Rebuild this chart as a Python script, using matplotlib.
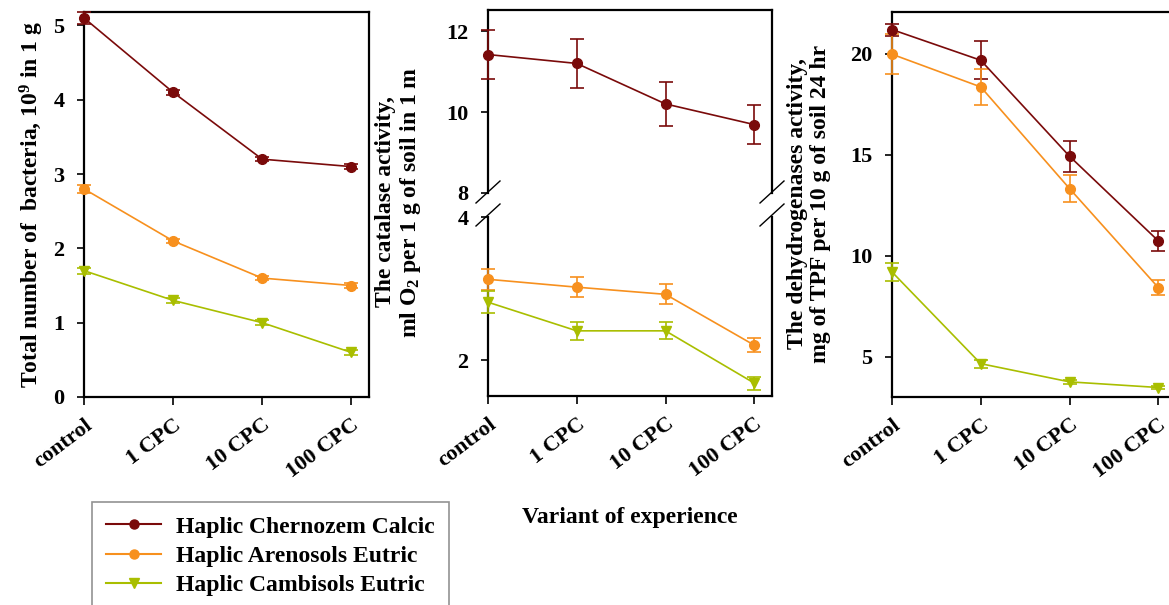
import matplotlib
matplotlib.use("Agg")
import matplotlib.pyplot as plt
from matplotlib.lines import Line2D

plt.rcParams['font.family'] = ['Liberation Serif', 'DejaVu Serif']
plt.rcParams['font.weight'] = 'bold'
plt.rcParams['mathtext.fontset'] = 'custom'
plt.rcParams['mathtext.rm'] = 'Liberation Serif:bold'
plt.rcParams['mathtext.it'] = 'Liberation Serif:bold'
plt.rcParams['mathtext.bf'] = 'Liberation Serif:bold'

# ---------------- data ----------------
categories = ["control", "1 CPC", "10 CPC", "100 CPC"]
series_names = ["Haplic Chernozem Calcic", "Haplic Arenosols Eutric", "Haplic Cambisols Eutric"]

bacteria_chernozem = [5.1, 4.1, 3.2, 3.1]
bacteria_chernozem_err = [0.08, 0.03, 0.03, 0.03]
bacteria_arenosols = [2.8, 2.1, 1.6, 1.5]
bacteria_arenosols_err = [0.05, 0.03, 0.03, 0.03]
bacteria_cambisols = [1.7, 1.3, 1.0, 0.6]
bacteria_cambisols_err = [0.04, 0.03, 0.03, 0.03]

catalase_chernozem = [11.42, 11.2, 10.2, 9.69]
catalase_chernozem_err = [0.6, 0.6, 0.54, 0.48]
catalase_arenosols = [3.13, 3.02, 2.92, 2.21]
catalase_arenosols_err = [0.15, 0.14, 0.14, 0.1]
catalase_cambisols = [2.81, 2.41, 2.41, 1.68]
catalase_cambisols_err = [0.15, 0.13, 0.12, 0.09]

dehydro_chernozem = [21.19, 19.67, 14.92, 10.73]
dehydro_chernozem_err = [0.3, 0.95, 0.77, 0.5]
dehydro_arenosols = [19.97, 18.35, 13.32, 8.42]
dehydro_arenosols_err = [1.0, 0.89, 0.69, 0.39]
dehydro_cambisols = [9.19, 4.65, 3.75, 3.47]
dehydro_cambisols_err = [0.46, 0.2, 0.1, 0.08]

colors = ["#7a0a0a", "#f7901e", "#a9be00"]
markers = ["o", "o", "v"]

W, H = 1169, 605
fig = plt.figure(figsize=(W / 100, H / 100), dpi=100)

TICK_FS = 16
LABEL_FS = 17


def ax_at(left, top, right, bottom):
    return fig.add_axes([left / W, (H - bottom) / H, (right - left) / W, (bottom - top) / H])


def eb(ax, x, y, e, i):
    ax.errorbar(x, y, yerr=e, color=colors[i], marker=markers[i], markersize=7,
                linewidth=1.2, elinewidth=1.2, capsize=5, capthick=1.2, zorder=3, clip_on=False)


def plot_series(ax, ys, errs):
    x = list(range(len(categories)))
    for i, (y, e) in enumerate(zip(ys, errs)):
        eb(ax, x, y, e, i)


def style(ax, xt=True):
    for s in ax.spines.values():
        s.set_linewidth(1.6)
        s.set_color("black")
    ax.tick_params(axis="y", direction="out", length=5, width=1.2, labelsize=TICK_FS, pad=9)
    ax.tick_params(axis="x", direction="out", length=6, width=1.2, labelsize=TICK_FS, pad=7)
    ax.set_xlim(0, 3.2)
    ax.set_xticks(range(len(categories)))
    if xt:
        ax.set_xticklabels(categories, rotation=37, ha="right", rotation_mode="anchor",
                           fontsize=TICK_FS, fontweight="bold")
    for lab in ax.get_yticklabels():
        lab.set_fontweight("bold")


# Panel 1
ax1 = ax_at(84, 12, 369, 397)
plot_series(ax1, [bacteria_chernozem, bacteria_arenosols, bacteria_cambisols],
            [bacteria_chernozem_err, bacteria_arenosols_err, bacteria_cambisols_err])
ax1.set_ylim(0, 5.18)
ax1.set_yticks([0, 1, 2, 3, 4, 5])
style(ax1)

# Panel 2 (broken axis)
ax2u = ax_at(488, 10, 772, 193)
ax2l = ax_at(488, 217, 772, 396)
xs = list(range(len(categories)))
eb(ax2u, xs, catalase_chernozem, catalase_chernozem_err, 0)
eb(ax2l, xs, catalase_arenosols, catalase_arenosols_err, 1)
eb(ax2l, xs, catalase_cambisols, catalase_cambisols_err, 2)
ax2u.set_ylim(8, 12.52)
ax2u.set_yticks([8, 10, 12])
ax2l.set_ylim(1.5, 4)
ax2l.set_yticks([2, 4])
style(ax2u, xt=False)
style(ax2l)
ax2u.spines["bottom"].set_visible(False)
ax2u.tick_params(axis="x", bottom=False, labelbottom=False)
ax2l.spines["top"].set_visible(False)

# break marks
for xp in (488, 772):
    for yp in (192, 215):
        fig.add_artist(Line2D([(xp - 12) / W, (xp + 12) / W],
                              [(H - yp - 11) / H, (H - yp + 11) / H],
                              color="black", linewidth=1.0))

# Panel 3
ax3 = ax_at(892, 12, 1176, 397)
plot_series(ax3, [dehydro_chernozem, dehydro_arenosols, dehydro_cambisols],
            [dehydro_chernozem_err, dehydro_arenosols_err, dehydro_cambisols_err])
ax3.set_ylim(3, 22.06)
ax3.set_yticks([5, 10, 15, 20])
style(ax3)

# Y labels
fig.text(32 / W, (H - 204) / H, "Total number of  bacteria, 10$^{9}$ in 1 g",
         rotation=90, ha="center", va="center", fontsize=LABEL_FS, fontweight="bold")
fig.text(399 / W, (H - 202) / H, "The catalase activity,\nml O$_{2}$ per 1 g of soil in 1 m",
         rotation=90, ha="center", va="center", fontsize=LABEL_FS, fontweight="bold",
         multialignment="center", linespacing=1.15)
fig.text(809 / W, (H - 204) / H, "The dehydrogenases activity,\nmg of TPF per 10 g of soil 24 hr",
         rotation=90, ha="center", va="center", fontsize=LABEL_FS, fontweight="bold",
         multialignment="center", linespacing=1.15)

fig.text(630 / W, (H - 517) / H, "Variant of experience", ha="center", va="center",
         fontsize=LABEL_FS, fontweight="bold")

handles = [Line2D([], [], color=colors[i], marker=markers[i], markersize=6.5, linewidth=1.5)
           for i in range(3)]
leg = fig.legend(handles, series_names, loc="upper left",
                 bbox_to_anchor=(92 / W, (H - 502) / H), frameon=True, fancybox=False,
                 prop={"size": 17, "weight": "bold"}, handlelength=2.33, handletextpad=0.64,
                 labelspacing=0.33, borderpad=0.6, borderaxespad=0)
leg.get_frame().set_edgecolor("#777777")
leg.get_frame().set_linewidth(1.2)

fig.savefig("out.png", dpi=100, facecolor="white")
